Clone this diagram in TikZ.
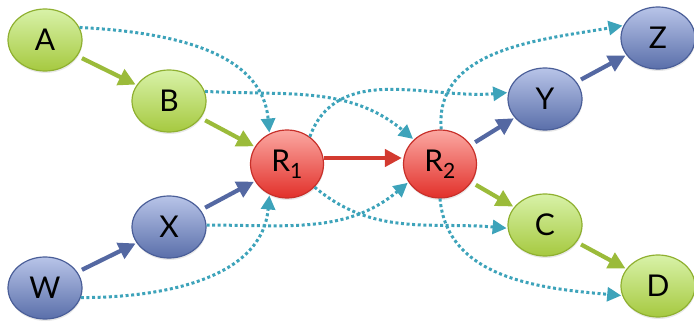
\documentclass[tikz,border=0pt]{standalone}
\usepackage{fontspec}
\setmainfont{Lato}
\usetikzlibrary{arrows.meta,shapes.geometric,shadows}
\definecolor{gfillA}{HTML}{D8F2A8}
\definecolor{gfillB}{HTML}{A6C940}
\definecolor{gline}{HTML}{8FB030}
\definecolor{bfillA}{HTML}{B8C4E8}
\definecolor{bfillB}{HTML}{5A6FAA}
\definecolor{bline}{HTML}{4A5E98}
\definecolor{rfillA}{HTML}{FBA8A2}
\definecolor{rfillB}{HTML}{E2302A}
\definecolor{rline}{HTML}{C8302A}
\definecolor{garrow}{HTML}{9BBB3A}
\definecolor{barrow}{HTML}{5468A2}
\definecolor{rarrow}{HTML}{D33A30}
\definecolor{tealc}{HTML}{3DA3BA}
\tikzset{
  basenode/.style={ellipse, inner sep=0pt, line width=1.2pt,
    font=\fontsize{30}{30}\selectfont,
    drop shadow={opacity=0.18, shadow xshift=0.5pt, shadow yshift=-2pt}},
  gnode/.style={basenode, minimum width=74pt, minimum height=62pt, draw=gline, top color=gfillA, bottom color=gfillB},
  bnode/.style={basenode, minimum width=74pt, minimum height=62pt, draw=bline, top color=bfillA, bottom color=bfillB},
  rnode/.style={basenode, minimum width=73pt, minimum height=68pt, draw=rline, top color=rfillA, bottom color=rfillB},
  solidlink/.style={line width=4.2pt, -{Triangle[length=17pt,width=17pt]}, shorten <=5pt, shorten >=1pt},
  glink/.style={solidlink, garrow},
  blink/.style={solidlink, barrow},
  rlink/.style={solidlink, rarrow, shorten <=0pt},
  dotlink/.style={tealc, line width=3pt, dash pattern=on 3pt off 2.6pt, -{Triangle[length=14pt,width=14pt]}, shorten >=1pt}
}
\begin{document}
\begin{tikzpicture}[x=1pt,y=1pt]
\useasboundingbox (0,0) rectangle (694,322);
\node[gnode] (A) at (45,282) {A};
\node[gnode] (B) at (169,221) {B};
\node[rnode] (R1) at (287,158) {R\textsubscript{1}};
\node[rnode] (R2) at (440,158) {R\textsubscript{2}};
\node[bnode] (X) at (169,95) {X};
\node[bnode] (W) at (45,34) {W};
\node[bnode] (Y) at (545,223) {Y};
\node[bnode] (Z) at (658,284) {Z};
\node[gnode] (C) at (545,97) {C};
\node[gnode] (D) at (658,36) {D};
% dotted
\draw[dotlink] (A.20) to[out=-3,in=95] (R1.120);
\draw[dotlink] (B.15) to[out=-3,in=140] (R2.137);
\draw[dotlink] (R1.50) to[out=70,in=185] (Y.170);
\draw[dotlink] (R2.88) to[out=95,in=190] (Z.160);
\draw[dotlink] (X.3) to[out=0,in=220] (R2.210);
\draw[dotlink] (W.-15) to[out=0,in=-95] (R1.240);
\draw[dotlink] (R1.-40) to[out=-40,in=175] (C.185);
\draw[dotlink] (R2.-90) to[out=-85,in=175] (D.195);
% solid
\draw[glink] (A) -- (B);
\draw[glink] (B) -- (R1);
\draw[blink] (W) -- (X);
\draw[blink] (X) -- (R1);
\draw[rlink] ([yshift=6pt]R1.east) -- ([yshift=6pt]R2.west);
\draw[blink] (R2) -- (Y);
\draw[blink] (Y) -- (Z);
\draw[glink] (R2) -- (C);
\draw[glink] (C) -- (D);
\end{tikzpicture}
\end{document}
